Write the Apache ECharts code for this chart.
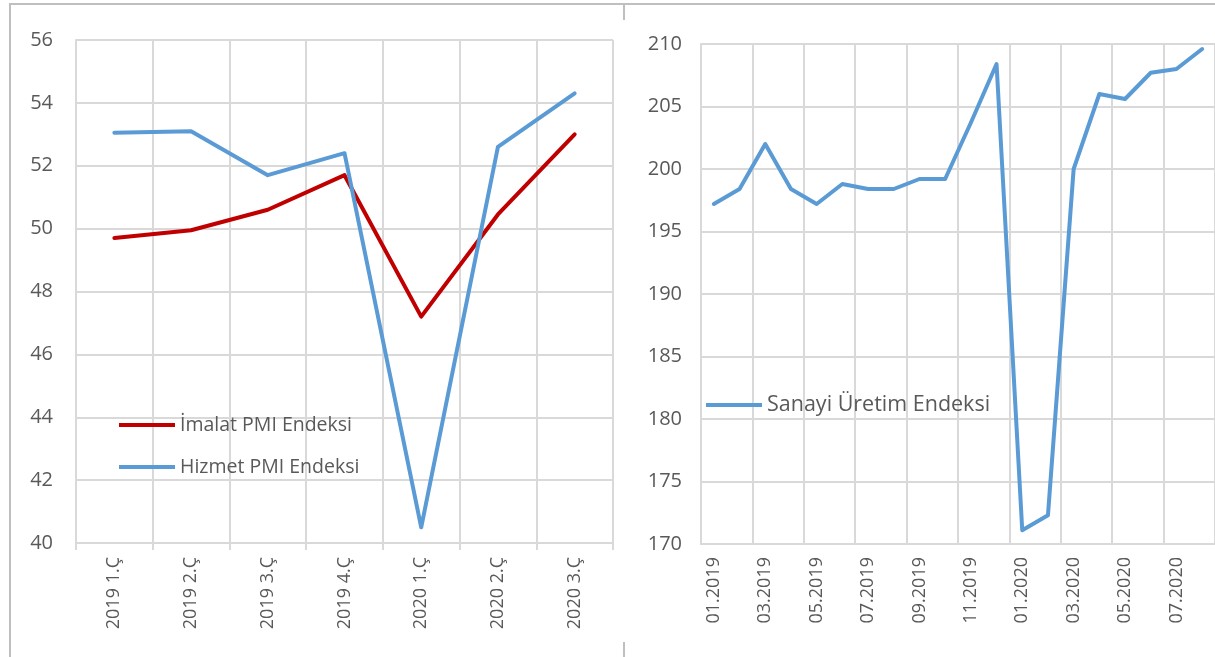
<!DOCTYPE html>
<html>
<head>
<meta charset="utf-8">
<script src="https://cdn.jsdelivr.net/npm/echarts@6/dist/echarts.min.js"></script>
<style>
  html, body { margin: 0; padding: 0; background: #fff; }
  #chart { width: 1215px; height: 657px; }
</style>
</head>
<body>
<div id="chart"></div>
<script>
// quarterly PMI (left panel)
const quarters = ['2019 1.Ç', '2019 2.Ç', '2019 3.Ç', '2019 4.Ç', '2020 1.Ç', '2020 2.Ç', '2020 3.Ç'];
const imalatPmi = [49.7, 49.95, 50.6, 51.7, 47.2, 50.45, 53.0];
const hizmetPmi = [53.05, 53.1, 51.7, 52.4, 40.5, 52.6, 54.3];
const pmiTicks = [40, 42, 44, 46, 48, 50, 52, 54, 56];

// monthly industrial production (right panel)
const months = ['01.2019', '02.2019', '03.2019', '04.2019', '05.2019', '06.2019', '07.2019', '08.2019',
    '09.2019', '10.2019', '11.2019', '12.2019', '01.2020', '02.2020', '03.2020', '04.2020',
    '05.2020', '06.2020', '07.2020', '08.2020'];
const sanayiUretim = [197.2, 198.4, 202.0, 198.4, 197.2, 198.8, 198.4, 198.4, 199.2, 199.2,
    203.7, 208.4, 171.1, 172.3, 200.0, 206.0, 205.6, 207.7, 208.0, 209.6];
const sanayiTicks = [170, 175, 180, 185, 190, 195, 200, 205, 210];

const textColor = '#595959';
const gridColor = '#d9d9d9';
const frameColor = '#bfbfbf';
const fontFamily = '"Open Sans", "Noto Sans", sans-serif';

const chart = echarts.init(document.getElementById('chart'));

const option = {
    animation: false,
    textStyle: { fontFamily: fontFamily },
    graphic: [
        { type: 'line', shape: { x1: 9, y1: 4, x2: 1215, y2: 4 }, style: { stroke: frameColor, lineWidth: 2 } },
        { type: 'line', shape: { x1: 10, y1: 4, x2: 10, y2: 657 }, style: { stroke: frameColor, lineWidth: 2 } },
        { type: 'line', shape: { x1: 624, y1: 4, x2: 624, y2: 20 }, style: { stroke: frameColor, lineWidth: 2 } },
        { type: 'line', shape: { x1: 624, y1: 642, x2: 624, y2: 657 }, style: { stroke: frameColor, lineWidth: 2 } }
    ],
    grid: [
        { left: 76, top: 40, width: 537, height: 503 },
        { left: 701, top: 44, width: 514, height: 500 }
    ],
    legend: [
        {
            left: 114,
            top: 410,
            orient: 'vertical',
            itemWidth: 56,
            itemHeight: 4,
            itemGap: 22,
            icon: 'rect',
            textStyle: { color: textColor, fontSize: 19.5, fontFamily: fontFamily },
            data: ['İmalat PMI Endeksi', 'Hizmet PMI Endeksi']
        },
        {
            left: 701,
            top: 389,
            itemWidth: 56,
            itemHeight: 4,
            icon: 'rect',
            textStyle: { color: textColor, fontSize: 21.5, fontFamily: fontFamily },
            data: ['Sanayi Üretim Endeksi']
        }
    ],
    xAxis: [
        {
            type: 'category',
            gridIndex: 0,
            data: quarters,
            boundaryGap: true,
            axisLine: { lineStyle: { color: gridColor, width: 2 } },
            axisTick: { show: true, length: 7, lineStyle: { color: gridColor, width: 2 } },
            splitLine: { show: true, lineStyle: { color: gridColor, width: 2 } },
            axisLabel: { rotate: 90, margin: 14, color: textColor, fontSize: 18, fontFamily: fontFamily }
        },
        {
            type: 'category',
            gridIndex: 1,
            data: months,
            boundaryGap: true,
            axisLine: { lineStyle: { color: gridColor, width: 2 } },
            axisTick: { show: false, interval: 1 },
            splitLine: { show: true, interval: 1, lineStyle: { color: gridColor, width: 2 } },
            axisLabel: { rotate: 90, interval: 1, margin: 13, color: textColor, fontSize: 18, fontFamily: fontFamily }
        }
    ],
    yAxis: [
        {
            type: 'value',
            gridIndex: 0,
            min: pmiTicks[0],
            max: pmiTicks[pmiTicks.length - 1],
            interval: pmiTicks[1] - pmiTicks[0],
            axisLine: { show: true, lineStyle: { color: gridColor, width: 2 } },
            axisTick: { show: false },
            splitLine: { lineStyle: { color: gridColor, width: 2 } },
            axisLabel: { margin: 23, color: textColor, fontSize: 20, fontFamily: fontFamily }
        },
        {
            type: 'value',
            gridIndex: 1,
            min: sanayiTicks[0],
            max: sanayiTicks[sanayiTicks.length - 1],
            interval: sanayiTicks[1] - sanayiTicks[0],
            axisLine: { show: true, lineStyle: { color: gridColor, width: 2 } },
            axisTick: { show: false },
            splitLine: { lineStyle: { color: gridColor, width: 2 } },
            axisLabel: { margin: 19, color: textColor, fontSize: 20, fontFamily: fontFamily }
        }
    ],
    series: [
        {
            name: 'İmalat PMI Endeksi',
            type: 'line',
            xAxisIndex: 0,
            yAxisIndex: 0,
            data: imalatPmi,
            showSymbol: false,
            itemStyle: { color: '#c00000' },
            lineStyle: { color: '#c00000', width: 4, cap: 'round', join: 'round' }
        },
        {
            name: 'Hizmet PMI Endeksi',
            type: 'line',
            xAxisIndex: 0,
            yAxisIndex: 0,
            data: hizmetPmi,
            showSymbol: false,
            itemStyle: { color: '#5b9bd5' },
            lineStyle: { color: '#5b9bd5', width: 4, cap: 'round', join: 'round' }
        },
        {
            name: 'Sanayi Üretim Endeksi',
            type: 'line',
            xAxisIndex: 1,
            yAxisIndex: 1,
            data: sanayiUretim,
            showSymbol: false,
            itemStyle: { color: '#5b9bd5' },
            lineStyle: { color: '#5b9bd5', width: 4, cap: 'round', join: 'round' }
        }
    ]
};

chart.setOption(option);
</script>
</body>
</html>
